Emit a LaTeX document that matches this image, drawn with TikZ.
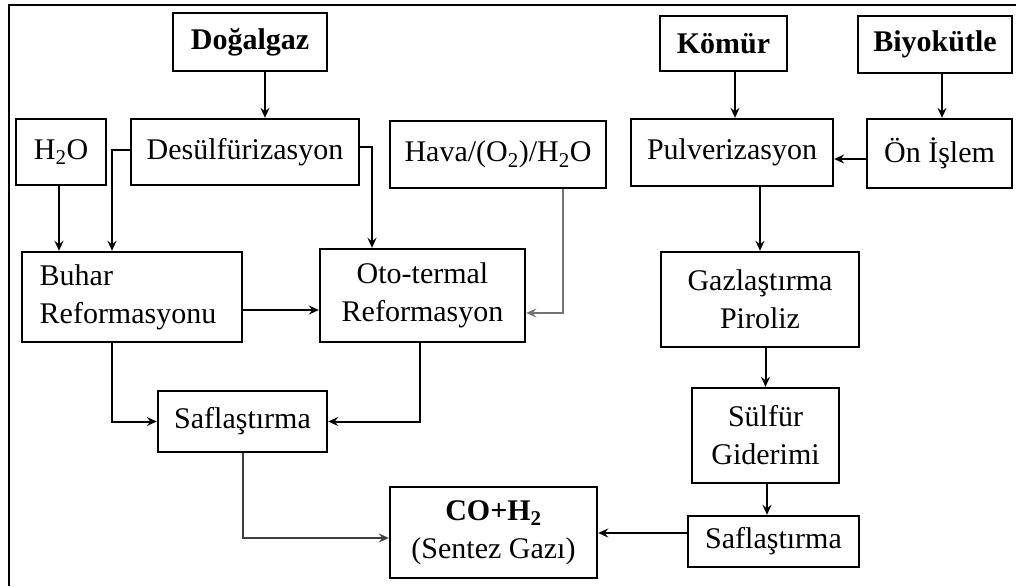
\documentclass[tikz,border=0pt]{standalone}
\usepackage{fontspec}
\setmainfont{Liberation Serif}
\usetikzlibrary{arrows.meta}
\begin{document}
\begin{tikzpicture}[x=1pt,y=-1pt,
    box/.style={draw, line width=2.4pt, rectangle, inner sep=0pt, align=center,
      font=\fontsize{30}{38}\selectfont},
    arr/.style={line width=2pt, -{Stealth[length=10pt,width=9pt,inset=3.5pt]}}]
    \useasboundingbox (0,0) rectangle (1016,586);
    % cerceve
    \draw[line width=2.5pt] (9,586) -- (9,5) -- (1016,5);
    % kaynaklar
    \node[box, minimum width=154, minimum height=58] (dog) at (250,42) {\textbf{Doğalgaz}};
    \node[box, minimum width=127, minimum height=55] (kom) at (723.5,43.5) {\textbf{Kömür}};
    \node[box, minimum width=154, minimum height=57] (biyo) at (935,44.5) {\textbf{Biyokütle}};
    % ikinci sira
    \node[box, minimum width=90, minimum height=66] (h2o) at (61,152) {H\textsubscript{2}O};
    \node[box, minimum width=228, minimum height=66] (des) at (245,152) {Desülfürizasyon};
    \node[box, minimum width=216, minimum height=67] (hava) at (498,154.5) {Hava/(O\textsubscript{2})/H\textsubscript{2}O};
    \node[box, minimum width=202, minimum height=67] (pul) at (732,152.5) {Pulverizasyon};
    \node[box, minimum width=145, minimum height=69] (on) at (939.5,153.5) {Ön İşlem};
    % reformasyon ve gazlastirma
    \node[box, align=left, minimum width=220, minimum height=90] (buh) at (132,297) {Buhar\\Reformasyonu\hspace*{8pt}};
    \node[box, minimum width=205, minimum height=93] (oto) at (422.5,295.5) {Oto-termal\\Reformasyon};
    \node[box, minimum width=198, minimum height=95] (gaz) at (760,299.5) {Gazlaştırma\\Piroliz};
    \node[box, minimum width=169, minimum height=61] (safl) at (242.5,421.5) {Saflaştırma};
    \node[box, minimum width=147, minimum height=95] (sul) at (765.5,435.5) {Sülfür\\Giderimi};
    \node[box, minimum width=207, minimum height=91] (co) at (493.5,532.5) {\textbf{CO+H\textsubscript{2}}\\(Sentez Gazı)};
    \node[box, minimum width=171, minimum height=51] (safr) at (773.5,541.5) {Saflaştırma};
    % oklar
    \draw[arr] ([xshift=15pt]dog.south) -- ([xshift=15pt]dog.south |- des.north);
    \draw[arr] ([xshift=11.5pt]kom.south) -- ([xshift=11.5pt]kom.south |- pul.north);
    \draw[arr] ([xshift=7pt]biyo.south) -- ([xshift=7pt]biyo.south |- on.north);
    \draw[arr] ([yshift=-5.5pt]on.west) -- ([yshift=-5.5pt]on.west -| pul.east);
    \draw[arr] ([xshift=-2pt]h2o.south) -- ([xshift=-2pt]h2o.south |- buh.north);
    \draw[arr] ([yshift=2pt]des.west) -| ([xshift=-20pt]buh.north);
    \draw[arr] ([yshift=5pt]des.east) -| ([xshift=-50.5pt]oto.north);
    \draw[arr, draw=black!55] ([xshift=65pt]hava.south) |- ([yshift=-17.5pt]oto.east);
    \draw[arr] ([yshift=-13pt]buh.east) -- ([yshift=-13pt]buh.east -| oto.west);
    \draw[arr] (pul.south -| gaz.north) -- (gaz.north);
    \draw[arr] (gaz.south -| sul.north) -- (sul.north);
    \draw[arr] ([xshift=1.5pt]sul.south) -- ([xshift=1.5pt]sul.south |- safr.north);
    \draw[arr] ([yshift=8.5pt]safr.west) -- ([yshift=8.5pt]safr.west -| co.east);
    \draw[arr] ([xshift=-20pt]buh.south) |- (safl.west);
    \draw[arr] ([xshift=-2.5pt]oto.south) |- (safl.east);
    \draw[arr, draw=black!75] (safl.south) |- ([yshift=-5.5pt]co.west);
\end{tikzpicture}
\end{document}
